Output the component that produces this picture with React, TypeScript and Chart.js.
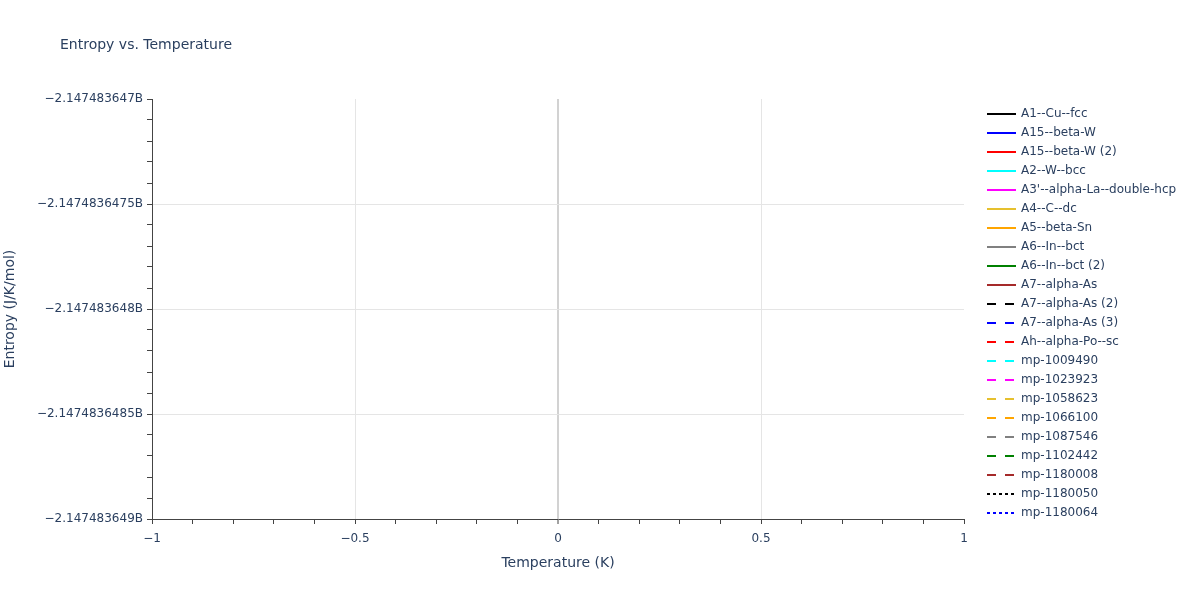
import { useEffect, useRef } from "react"
import { Chart, registerables } from "chart.js"

Chart.register(...registerables)

const chartTitle = "Entropy vs. Temperature"
const xAxisTitle = "Temperature (K)"
const yAxisTitle = "Entropy (J/K/mol)"

// the source figure has no points in any series, only the empty axes
const temperatures: number[] = []

const seriesLabels = [
  "A1--Cu--fcc",
  "A15--beta-W",
  "A15--beta-W (2)",
  "A2--W--bcc",
  "A3'--alpha-La--double-hcp",
  "A4--C--dc",
  "A5--beta-Sn",
  "A6--In--bct",
  "A6--In--bct (2)",
  "A7--alpha-As",
  "A7--alpha-As (2)",
  "A7--alpha-As (3)",
  "Ah--alpha-Po--sc",
  "mp-1009490",
  "mp-1023923",
  "mp-1058623",
  "mp-1066100",
  "mp-1087546",
  "mp-1102442",
  "mp-1180008",
  "mp-1180050",
  "mp-1180064",
]

const seriesColors = [
  "#000000", "#0000ff", "#ff0000", "#00ffff", "#ff00ff",
  "#e6c02e", "#ffa500", "#808080", "#008000", "#a52a2a",
  "#000000", "#0000ff", "#ff0000", "#00ffff", "#ff00ff",
  "#e6c02e", "#ffa500", "#808080", "#008000", "#a52a2a",
  "#000000", "#0000ff",
]

const seriesStyles = [
  "solid", "solid", "solid", "solid", "solid",
  "solid", "solid", "solid", "solid", "solid",
  "dash", "dash", "dash", "dash", "dash",
  "dash", "dash", "dash", "dash", "dash",
  "dot", "dot",
]

const entropyValues: number[][] = seriesLabels.map(() => [])

const xTickValues = [-1, -0.5, 0, 0.5, 1]
const xTickLabels = ["\u22121", "\u22120.5", "0", "0.5", "1"]
const yTickValues = [-2147483649, -2147483648.5, -2147483648, -2147483647.5, -2147483647]
const yTickLabels = [
  "\u22122.147483649B",
  "\u22122.1474836485B",
  "\u22122.147483648B",
  "\u22122.1474836475B",
  "\u22122.147483647B",
]

const TEXT = "#2a3f5f"
const GRID = "#e5e5e5"
const ZERO = "#d2d2d2"
const AXIS = "#444444"
const FONT = '"DejaVu Sans", Verdana, sans-serif'

const dashFor = (style: string) =>
  style === "dash" ? [9, 9] : style === "dot" ? [3, 3] : []

// majors plus four minor ticks between each pair
const withMinors = (majors: number[]) => {
  const out: { value: number }[] = []
  for (let i = 0; i < majors.length; i++) {
    out.push({ value: majors[i] })
    if (i < majors.length - 1) {
      const step = (majors[i + 1] - majors[i]) / 5
      for (let k = 1; k < 5; k++) out.push({ value: majors[i] + step * k })
    }
  }
  return out
}

const majorIndex = (majors: number[], v: number) =>
  majors.findIndex((m) => Math.abs(m - v) < 1e-6)

const overlayPlugin = {
  id: "overlay",
  afterDraw(chart: Chart) {
    const ctx = chart.ctx
    ctx.save()
    ctx.fillStyle = TEXT
    ctx.textBaseline = "middle"
    ctx.textAlign = "left"
    ctx.font = `14px ${FONT}`
    ctx.fillText(chartTitle, 60, 45.5)

    ctx.font = `12px ${FONT}`
    chart.data.datasets.forEach((ds: any, i: number) => {
      const y = 114 + i * 19
      ctx.beginPath()
      ctx.strokeStyle = ds.borderColor
      ctx.lineWidth = 2
      ctx.setLineDash(ds.borderDash || [])
      ctx.moveTo(987, y)
      ctx.lineTo(1016, y)
      ctx.stroke()
      ctx.setLineDash([])
      ctx.fillStyle = TEXT
      ctx.fillText(ds.label, 1021, y)
    })
    ctx.restore()
  },
}

export default function App() {
  const chartRef = useRef<HTMLCanvasElement>(null)
  const chartInstance = useRef<Chart | null>(null)

  useEffect(() => {
    if (!chartRef.current) return
    if (chartInstance.current) chartInstance.current.destroy()
    const ctx = chartRef.current.getContext("2d")
    if (!ctx) return

    Chart.defaults.font.family = FONT
    Chart.defaults.color = TEXT

    chartInstance.current = new Chart(ctx, {
      type: "line",
      data: {
        labels: temperatures,
        datasets: seriesLabels.map((label, i) => ({
          label,
          data: entropyValues[i],
          borderColor: seriesColors[i],
          backgroundColor: seriesColors[i],
          borderDash: dashFor(seriesStyles[i]),
          borderWidth: 2,
          pointRadius: 0,
        })),
      },
      options: {
        responsive: false,
        animation: false,
        layout: { padding: { top: 99, right: 236, bottom: 25, left: 0 } },
        plugins: {
          legend: { display: false },
          title: { display: false },
          tooltip: { enabled: false },
        },
        scales: {
          x: {
            type: "linear",
            min: -1,
            max: 1,
            afterBuildTicks: (scale: any) => {
              scale.ticks = withMinors(xTickValues)
            },
            afterFit: (scale: any) => {
              scale.height = 56
            },
            ticks: {
              autoSkip: false,
              maxRotation: 0,
              padding: 8,
              color: TEXT,
              font: { size: 12 },
              callback: (v: any) => {
                const idx = majorIndex(xTickValues, Number(v))
                return idx >= 0 ? xTickLabels[idx] : ""
              },
            },
            grid: {
              tickLength: 5,
              tickColor: AXIS,
              tickWidth: 1,
              color: (c: any) => {
                const v = c.tick ? c.tick.value : 0
                const idx = majorIndex(xTickValues, v)
                if (idx <= 0 || idx === xTickValues.length - 1) return "rgba(0,0,0,0)"
                return Math.abs(v) < 1e-9 ? ZERO : GRID
              },
              lineWidth: (c: any) =>
                c.tick && Math.abs(c.tick.value) < 1e-9 ? 2 : 1,
            },
            border: { display: true, color: AXIS, width: 1 },
            title: {
              display: true,
              text: xAxisTitle,
              color: TEXT,
              font: { size: 14 },
              padding: { top: 4, bottom: 3 },
            },
          },
          y: {
            type: "linear",
            min: yTickValues[0],
            max: yTickValues[yTickValues.length - 1],
            afterBuildTicks: (scale: any) => {
              scale.ticks = withMinors(yTickValues)
            },
            afterFit: (scale: any) => {
              scale.width = 152
            },
            ticks: {
              autoSkip: false,
              padding: 4,
              color: TEXT,
              font: { size: 12 },
              callback: (v: any) => {
                const idx = majorIndex(yTickValues, Number(v))
                return idx >= 0 ? yTickLabels[idx] : ""
              },
            },
            grid: {
              tickLength: 5,
              tickColor: AXIS,
              tickWidth: 1,
              color: (c: any) => {
                const v = c.tick ? c.tick.value : 0
                const idx = majorIndex(yTickValues, v)
                if (idx <= 0 || idx === yTickValues.length - 1) return "rgba(0,0,0,0)"
                return GRID
              },
            },
            border: { display: true, color: AXIS, width: 1 },
            title: {
              display: true,
              text: yAxisTitle,
              color: TEXT,
              font: { size: 14 },
              padding: { top: 2, bottom: 2 },
            },
          },
        },
      },
      plugins: [overlayPlugin],
    } as any)

    return () => {
      if (chartInstance.current) {
        chartInstance.current.destroy()
        chartInstance.current = null
      }
    }
  }, [])

  return (
    <div style={{ position: "absolute", left: 0, top: 0, width: 1200, height: 600, background: "#fff" }}>
      <canvas ref={chartRef} width={1200} height={600} style={{ width: 1200, height: 600 }} />
    </div>
  )
}
